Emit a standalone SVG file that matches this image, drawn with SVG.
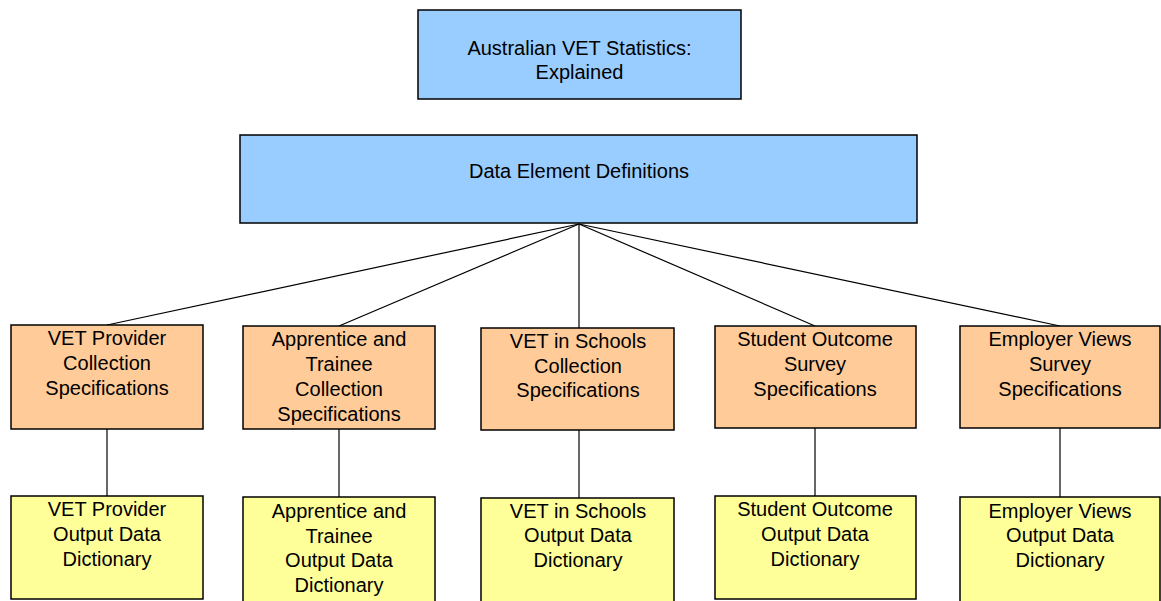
<svg xmlns="http://www.w3.org/2000/svg" width="1161" height="601" viewBox="0 0 1161 601">
<style>
.box{stroke:#000;stroke-width:1.5}
.blue{fill:#99CCFF}
.orange{fill:#FFCC99}
.yellow{fill:#FFFF99}
text{font-family:"Liberation Sans",Arial,sans-serif;font-size:20px;fill:#000;text-anchor:middle}
.conn line{stroke:#000;stroke-width:1.2}
</style>
<rect width="1161" height="601" fill="#fff"/>
<g class="conn" id="connectors">
<line x1="579" y1="224" x2="107" y2="325"/>
<line x1="579" y1="224" x2="339" y2="326"/>
<line x1="579" y1="224" x2="579" y2="328"/>
<line x1="579" y1="224" x2="815" y2="326"/>
<line x1="579" y1="224" x2="1060" y2="326"/>
<line x1="107" y1="429" x2="107" y2="496"/>
<line x1="339" y1="429" x2="339" y2="497"/>
<line x1="579" y1="430" x2="579" y2="498"/>
<line x1="815" y1="428" x2="815" y2="496"/>
<line x1="1060" y1="428" x2="1060" y2="497"/>
</g>
<g id="n-top">
<rect class="box blue" x="418" y="10" width="323" height="89"/>
<text x="579.5" y="55">Australian VET Statistics:</text>
<text x="579.5" y="79">Explained</text>
</g>
<g id="n-ded">
<rect class="box blue" x="240" y="135" width="677" height="88"/>
<text x="579" y="178">Data Element Definitions</text>
</g>
<g id="n-o1">
<rect class="box orange" x="11" y="325" width="192" height="104"/>
<text x="107" y="345">VET Provider</text>
<text x="107" y="370">Collection</text>
<text x="107" y="395">Specifications</text>
</g>
<g id="n-o2">
<rect class="box orange" x="243" y="326" width="192" height="103"/>
<text x="339" y="346">Apprentice and</text>
<text x="339" y="371">Trainee</text>
<text x="339" y="396">Collection</text>
<text x="339" y="421">Specifications</text>
</g>
<g id="n-o3">
<rect class="box orange" x="481" y="328" width="193" height="102"/>
<text x="578" y="348">VET in Schools</text>
<text x="578" y="373">Collection</text>
<text x="578" y="397">Specifications</text>
</g>
<g id="n-o4">
<rect class="box orange" x="715" y="326" width="201" height="102"/>
<text x="815" y="346">Student Outcome</text>
<text x="815" y="371">Survey</text>
<text x="815" y="396">Specifications</text>
</g>
<g id="n-o5">
<rect class="box orange" x="960" y="326" width="200" height="102"/>
<text x="1060" y="346">Employer Views</text>
<text x="1060" y="371">Survey</text>
<text x="1060" y="396">Specifications</text>
</g>
<g id="n-y1">
<rect class="box yellow" x="11" y="496" width="192" height="103"/>
<text x="107" y="516">VET Provider</text>
<text x="107" y="541">Output Data</text>
<text x="107" y="566">Dictionary</text>
</g>
<g id="n-y2">
<rect class="box yellow" x="243" y="497" width="192" height="106"/>
<text x="339" y="518">Apprentice and</text>
<text x="339" y="543">Trainee</text>
<text x="339" y="567">Output Data</text>
<text x="339" y="592">Dictionary</text>
</g>
<g id="n-y3">
<rect class="box yellow" x="481" y="498" width="193" height="105"/>
<text x="578" y="518">VET in Schools</text>
<text x="578" y="542">Output Data</text>
<text x="578" y="567">Dictionary</text>
</g>
<g id="n-y4">
<rect class="box yellow" x="715" y="496" width="201" height="103"/>
<text x="815" y="516">Student Outcome</text>
<text x="815" y="541">Output Data</text>
<text x="815" y="566">Dictionary</text>
</g>
<g id="n-y5">
<rect class="box yellow" x="960" y="497" width="200" height="106"/>
<text x="1060" y="518">Employer Views</text>
<text x="1060" y="542">Output Data</text>
<text x="1060" y="567">Dictionary</text>
</g>
</svg>
